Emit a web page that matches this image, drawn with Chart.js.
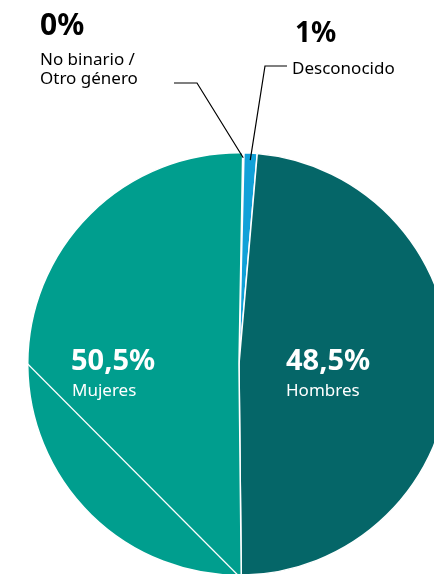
<!DOCTYPE html>
<html lang="es">
<head>
<meta charset="utf-8">
<title>Género</title>
<script src="https://cdn.jsdelivr.net/npm/chart.js@4/dist/chart.umd.min.js"></script>
<style>
  html, body { margin: 0; padding: 0; background: #fff; overflow: hidden; width: 434px; height: 574px; }
  #wrap { position: relative; width: 434px; height: 574px; overflow: hidden; }
  #pie { position: absolute; left: 0; top: 0; }
</style>
</head>
<body>
<div id="wrap">
  <canvas id="pie" width="478" height="728"></canvas>
</div>
<script>
// Chart data
const categories = ['No binario / Otro género', 'Desconocido', 'Hombres', 'Mujeres'];
const values = [0.1, 1, 48.5, 50.5];
const valueLabels = ['0%', '1%', '48,5%', '50,5%'];
const colors = ['#0fa1d6', '#11a1d8', '#056668', '#009e8e'];

const FONT = '"Noto Sans", "Open Sans", sans-serif';

// Draw the labels, the leader lines and the thin white line across the Mujeres slice
const labelPlugin = {
  id: 'pieLabels',
  afterDatasetsDraw(chart) {
    const ctx = chart.ctx;
    const arcs = chart.getDatasetMeta(0).data;
    const p0 = arcs[0].getProps(['x', 'y', 'outerRadius']);
    const cx = p0.x, cy = p0.y, r = p0.outerRadius;

    // point a little inside the rim at the middle of a slice
    function rimPoint(i, inset) {
      const a = arcs[i].getProps(['startAngle', 'endAngle']);
      const mid = (a.startAngle + a.endAngle) / 2;
      return { x: cx + Math.cos(mid) * (r - inset), y: cy + Math.sin(mid) * (r - inset) };
    }

    ctx.save();

    // white chord in the Mujeres slice
    ctx.strokeStyle = '#ffffff';
    ctx.lineWidth = 1.2;
    ctx.beginPath();
    ctx.moveTo(cx - r, cy);
    ctx.lineTo(cx - 1, cy + r);
    ctx.stroke();

    // leader lines
    ctx.strokeStyle = '#000000';
    ctx.lineWidth = 1.2;
    let p = rimPoint(0, 5);
    ctx.beginPath();
    ctx.moveTo(174, 83);
    ctx.lineTo(197, 83);
    ctx.lineTo(p.x, p.y);
    ctx.stroke();

    p = rimPoint(1, 7);
    ctx.beginPath();
    ctx.moveTo(287, 66);
    ctx.lineTo(265, 66);
    ctx.lineTo(p.x, p.y);
    ctx.stroke();

    // outside labels
    ctx.fillStyle = '#000000';
    ctx.textAlign = 'left';
    ctx.textBaseline = 'alphabetic';
    ctx.font = 'bold 30px ' + FONT;
    ctx.fillText(valueLabels[0], 40, 35);
    ctx.font = '17px ' + FONT;
    ctx.fillText('No binario /', 40, 65);
    ctx.fillText('Otro género', 40, 84);

    ctx.font = 'bold 28px ' + FONT;
    ctx.fillText(valueLabels[1], 295, 42);
    ctx.font = '17px ' + FONT;
    ctx.fillText(categories[1], 292, 74);

    // labels inside the big slices
    ctx.fillStyle = '#ffffff';
    ctx.font = 'bold 29px ' + FONT;
    ctx.fillText(valueLabels[3], 71, 370);
    ctx.fillText(valueLabels[2], 286, 370);
    ctx.font = '17px ' + FONT;
    ctx.fillText(categories[3], 72, 396);
    ctx.fillText(categories[2], 286, 396);

    ctx.restore();
  }
};

document.addEventListener('DOMContentLoaded', () => {
  const el = document.getElementById('pie');
  new Chart(el.getContext('2d'), {
    type: 'pie',
    data: {
      labels: categories,
      datasets: [{
        data: values,
        backgroundColor: colors,
        borderColor: '#ffffff',
        borderWidth: 1.5
      }]
    },
    options: {
      responsive: false,
      animation: false,
      devicePixelRatio: 1,
      rotation: 1,
      layout: { padding: { left: 26, right: 26, top: 152, bottom: 152 } },
      plugins: {
        legend: { display: false },
        tooltip: { enabled: false }
      }
    },
    plugins: [labelPlugin]
  });
});
</script>
</body>
</html>
